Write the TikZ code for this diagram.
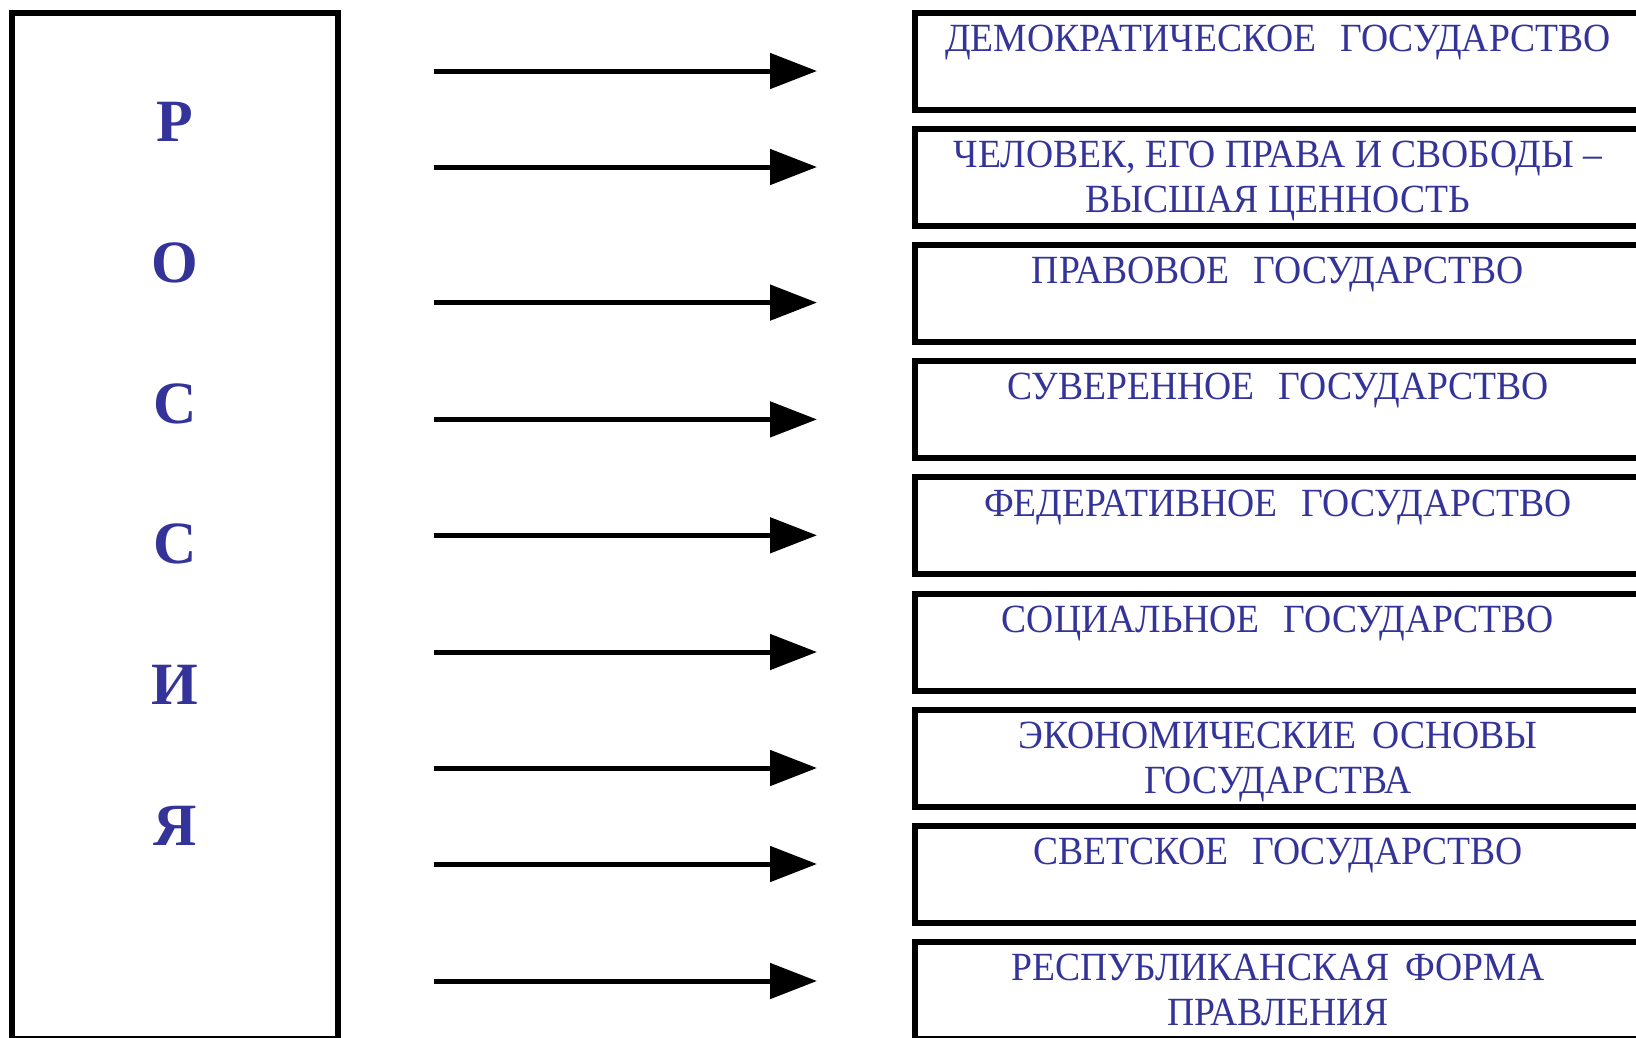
\documentclass[tikz,border=0pt]{standalone}
\usepackage{fontspec}
\setmainfont{Liberation Serif}
\newfontfamily\narrowfont[FakeStretch=0.94]{Liberation Serif}
\usepackage{xcolor}
\usetikzlibrary{positioning, arrows.meta, calc}
\definecolor{textblue}{RGB}{51,51,153}
\newcommand{\wgap}{\hspace{0.6em}}
\newcommand{\ngap}{\hspace{0.4em}}

\begin{document}
\begin{tikzpicture}[x=1pt, y=-1pt,
    statebox/.style={draw, line width=6pt, minimum width=726pt, minimum height=97pt, outer sep=0pt, inner sep=0pt},
    boxtext/.style={anchor=north, inner sep=0pt, align=center, text=textblue, font=\narrowfont\fontsize{40}{45}\selectfont},
    letter/.style={text=textblue, inner sep=0pt, font=\fontsize{60}{60}\selectfont\bfseries},
    arr/.style={line width=5pt, -{Triangle[length=47pt, width=35pt]}}]
    \clip (0,0) rectangle (1636,1037);
    % Russia column
    \node[draw, line width=6pt, minimum width=326.5pt, minimum height=1026pt, outer sep=0pt] (russia) at (174.75,526) {};
    \foreach \l [count=\k from 0] in {Р,О,С,С,И,Я}
        \node[letter] (l\k) at (175,{122+140.8*\k}) {\l};
    % principles
    \foreach \t [count=\i] in {{ДЕМОКРАТИЧЕСКОЕ\wgap ГОСУДАРСТВО},
        {ЧЕЛОВЕК, ЕГО ПРАВА И СВОБОДЫ –\\ВЫСШАЯ ЦЕННОСТЬ},
        {ПРАВОВОЕ\wgap ГОСУДАРСТВО},
        {СУВЕРЕННОЕ\wgap ГОСУДАРСТВО},
        {ФЕДЕРАТИВНОЕ\wgap ГОСУДАРСТВО},
        {СОЦИАЛЬНОЕ\wgap ГОСУДАРСТВО},
        {ЭКОНОМИЧЕСКИЕ\ngap ОСНОВЫ\\ГОСУДАРСТВА},
        {СВЕТСКОЕ\wgap ГОСУДАРСТВО},
        {РЕСПУБЛИКАНСКАЯ\ngap ФОРМА\\ПРАВЛЕНИЯ}} {
        \node[statebox] (b\i) at (1278,{61.5+116.1*(\i-1)}) {};
        \node[boxtext] (t\i) at ([yshift=-12pt]b\i.north) {\t};
    }
    % arrows
    \foreach \y [count=\i] in {71,167,302.6,419.4,535.3,652,768,864,981} {
        \coordinate (s\i) at (434,\y);
        \coordinate (e\i) at (817,\y);
        \draw[arr] (s\i) -- (e\i);
    }
\end{tikzpicture}
\end{document}
